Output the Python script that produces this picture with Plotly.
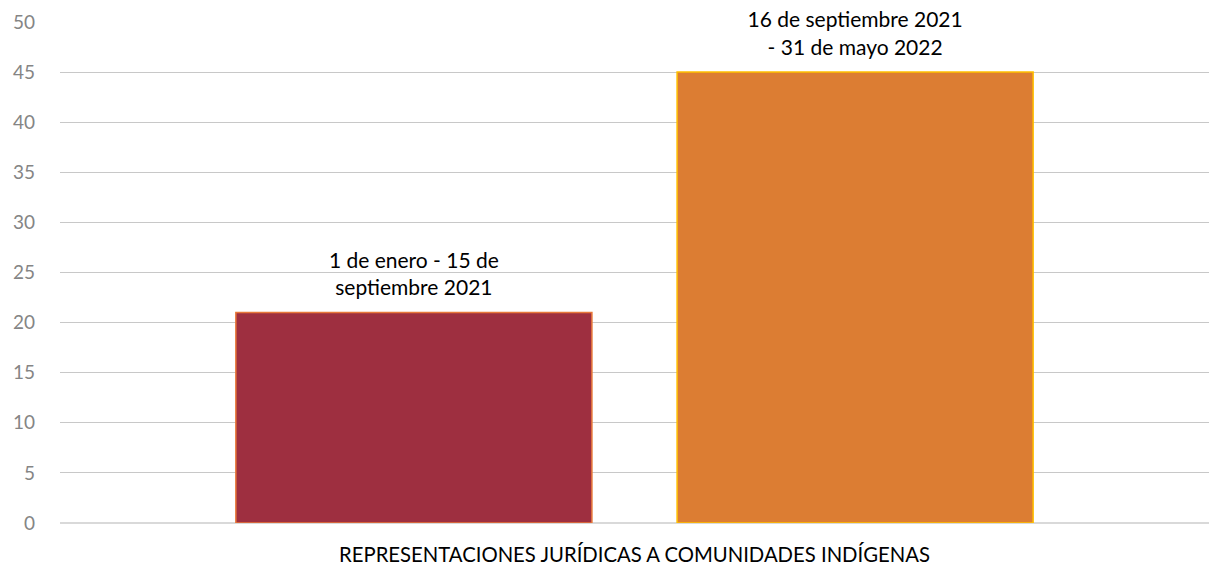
import plotly.graph_objects as go

categories = ["REPRESENTACIONES JURÍDICAS A COMUNIDADES INDÍGENAS"]
series_names = ["1 de enero - 15 de<br>septiembre 2021", "16 de septiembre 2021<br>- 31 de mayo 2022"]
series_values = [[21], [45]]
fill_colors = ["#9E2F40", "#DC7D33"]
line_colors = ["#E8783A", "#FFC000"]
y_ticks = [0, 5, 10, 15, 20, 25, 30, 35, 40, 45, 50]

fig = go.Figure()
for i, (name, vals, fc, lc) in enumerate(zip(series_names, series_values, fill_colors, line_colors)):
    fig.add_trace(go.Bar(
        x=categories, y=vals, name=name, offsetgroup=str(i),
        marker=dict(color=fc, line=dict(color=lc, width=1.5)),
    ))
    # value labels (series names) placed above each bar
    fig.add_trace(go.Scatter(
        x=categories, y=vals, name=name, offsetgroup=str(i),
        mode="markers+text", text=[name], textposition="top center",
        textfont=dict(family="Lato, Calibri, sans-serif", size=21, color="#000000"),
        marker=dict(size=18, opacity=0, color=fc),
        cliponaxis=False, hoverinfo="skip",
    ))

fig.update_layout(
    width=1209, height=567,
    margin=dict(l=60, r=0, t=22, b=44, autoexpand=False),
    paper_bgcolor="white", plot_bgcolor="white",
    barmode="group", bargap=0.232, bargroupgap=0.193,
    scattermode="group", scattergap=0.232,
    showlegend=False,
    font=dict(family="Lato, Calibri, sans-serif"),
)
fig.update_yaxes(
    range=[0, 50], tickvals=y_ticks, showgrid=True, gridcolor="#C8C8C8", gridwidth=1.3,
    zeroline=True, zerolinecolor="#D9D9D9", zerolinewidth=2,
    tickfont=dict(family="Lato, sans-serif", size=19, color="#858585"),
    ticks="", ticklabelstandoff=24, automargin=False,
)
fig.update_xaxes(
    tickfont=dict(family="Lato, Calibri, sans-serif", size=20.3, color="#000000"),
    ticks="", showline=False, automargin=False, ticklabelstandoff=18,
)

fig.write_html(
    "out.html",
    config={"displayModeBar": False},
    post_script="document.body.style.margin='0';document.body.style.overflow='hidden';",
)
